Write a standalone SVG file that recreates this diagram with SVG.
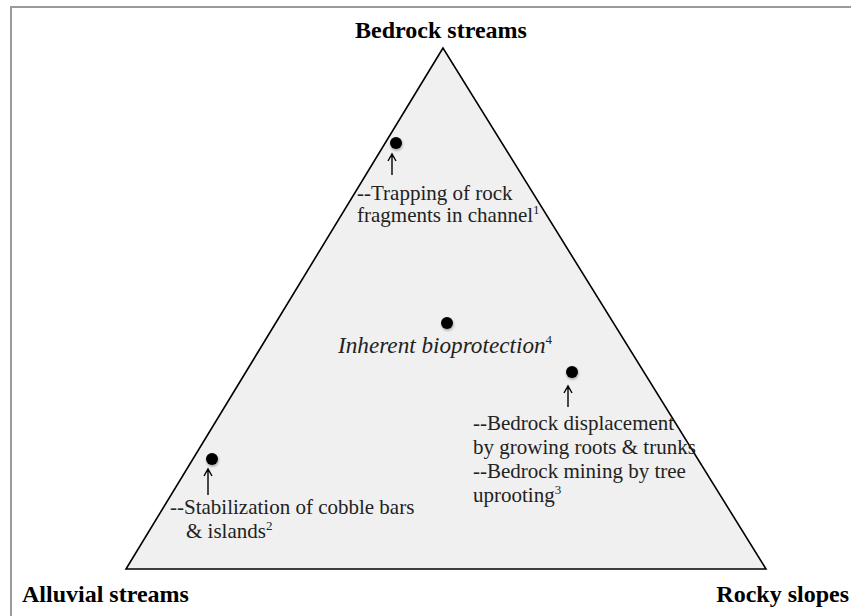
<svg xmlns="http://www.w3.org/2000/svg" width="851" height="616" viewBox="0 0 851 616">
  <style>
    .frame { fill: #ffffff; stroke: #9a9a9a; stroke-width: 2; }
    .tri { fill: #f0f0f0; stroke: #000000; stroke-width: 1.6; stroke-linejoin: miter; }
    .corner { font-family: "Liberation Serif", "Times New Roman", serif; font-weight: bold; font-size: 24px; fill: #000; }
    .note { font-family: "Liberation Serif", "Times New Roman", serif; font-size: 21px; fill: #222; }
    .ital { font-family: "Liberation Serif", "Times New Roman", serif; font-style: italic; font-size: 23.2px; fill: #222; }
    .sup { font-size: 13px; }
    .dot { fill: #000; filter: url(#soft); }
    .arrow { fill: none; stroke: #000; stroke-width: 1.4; }
  </style>
  <defs>
    <filter id="soft" x="-50%" y="-50%" width="200%" height="200%">
      <feDropShadow dx="0.5" dy="1.5" stdDeviation="1.2" flood-color="#000" flood-opacity="0.35"/>
    </filter>
  </defs>

  <!-- outer frame, running off the right and bottom edges -->
  <rect class="frame" x="11" y="7" width="860" height="630"/>

  <!-- ternary triangle -->
  <g id="triangle">
    <polygon class="tri" points="443,48 126,569 766,569"/>
  </g>

  <!-- corner labels -->
  <g id="bedrock-streams">
    <text class="corner" x="441" y="38" text-anchor="middle">Bedrock streams</text>
  </g>
  <g id="alluvial-streams">
    <text class="corner" x="22" y="602">Alluvial streams</text>
  </g>
  <g id="rocky-slopes">
    <text class="corner" x="849" y="602" text-anchor="end">Rocky slopes</text>
  </g>

  <!-- point: trapping of rock fragments -->
  <g id="trapping">
    <circle class="dot" cx="396" cy="143" r="6"/>
    <text class="note" x="357" y="200">--Trapping of rock</text>
    <text class="note" x="357" y="222">fragments in channel<tspan class="sup" dy="-8">1</tspan></text>
  </g>

  <!-- point: inherent bioprotection -->
  <g id="inherent">
    <circle class="dot" cx="447" cy="323" r="6"/>
    <text class="ital" x="338" y="353">Inherent bioprotection<tspan class="sup" font-style="normal" dy="-9">4</tspan></text>
  </g>

  <!-- point: bedrock displacement / mining -->
  <g id="displacement">
    <circle class="dot" cx="572" cy="372" r="6"/>
    <text class="note" x="473" y="430">--Bedrock displacement</text>
    <text class="note" x="473" y="454">by growing roots &amp; trunks</text>
    <text class="note" x="473" y="478">--Bedrock mining by tree</text>
    <text class="note" x="473" y="502">uprooting<tspan class="sup" dy="-8">3</tspan></text>
  </g>

  <!-- point: stabilization of cobble bars -->
  <g id="stabilization">
    <circle class="dot" cx="212" cy="459" r="6"/>
    <text class="note" x="170" y="514">--Stabilization of cobble bars</text>
    <text class="note" x="186" y="538">&amp; islands<tspan class="sup" dy="-8">2</tspan></text>
  </g>

  <!-- pointer arrows -->
  <g id="connectors">
    <path class="arrow" d="M392,175 V155 M388,161 L392,154 L396,161"/>
    <path class="arrow" d="M568,407 V387 M564,393 L568,386 L572,393"/>
    <path class="arrow" d="M208,495 V470 M204,476 L208,469 L212,476"/>
  </g>
</svg>
